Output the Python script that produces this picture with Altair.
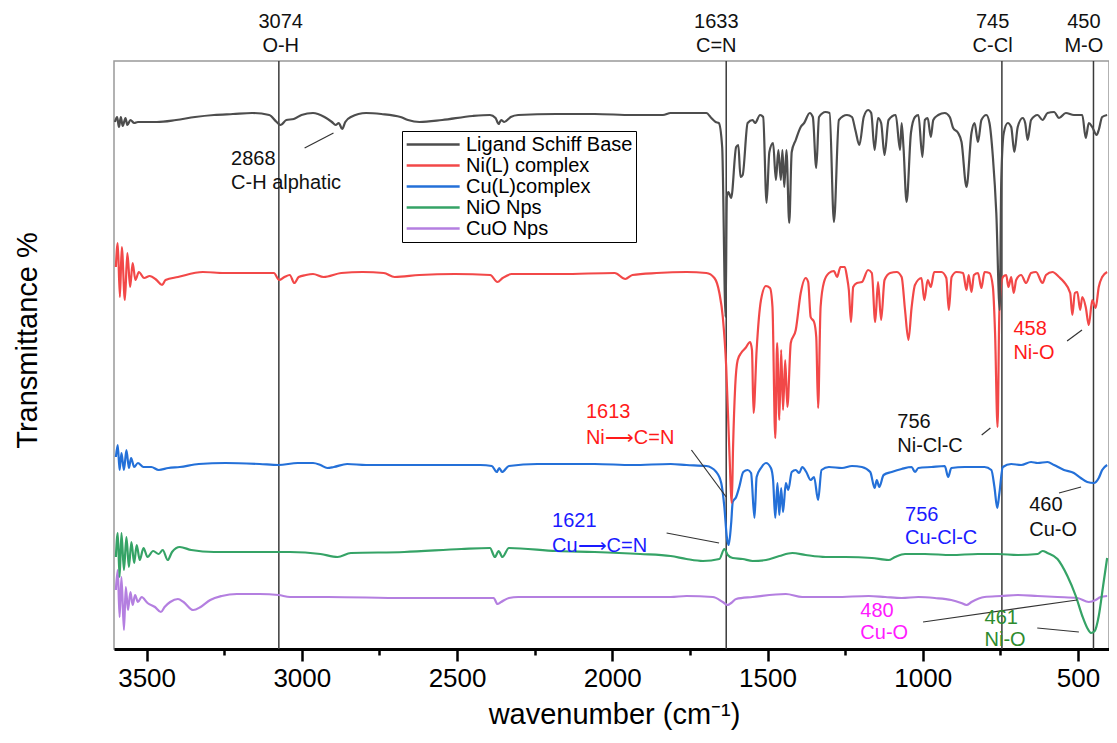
import altair as alt
import pandas as pd

# ---------------- data ----------------
series_names = ["Ligand Schiff Base", "Ni(L) complex", "Cu(L)complex", "NiO Nps", "CuO Nps"]
series_colors = ["#4d4d4d", "#f24848", "#2470d8", "#35a366", "#b47fe0"]

ligand_wn = [3602, 3595, 3589, 3583, 3577, 3568, 3562, 3552, 3540, 3528, 3467, 3405, 3344, 3283, 3222, 3160,
             3105, 3081, 3068, 3050, 3026, 3001, 2964, 2927, 2903, 2891, 2881, 2870, 2860, 2842, 2793, 2744,
             2682, 2658, 2621, 2548, 2450, 2394, 2376, 2366, 2358, 2348, 2327, 2303, 2180, 2057, 1935, 1837,
             1812, 1761, 1697, 1681, 1667, 1657, 1646, 1635, 1631, 1626, 1617, 1601, 1594, 1587, 1580, 1564,
             1548, 1540, 1524, 1514, 1503, 1494, 1482, 1473, 1465, 1457, 1452, 1446, 1439, 1430, 1422, 1409,
             1393, 1382, 1364, 1354, 1343, 1334, 1313, 1300, 1286, 1270, 1244, 1228, 1217, 1204, 1190, 1176,
             1166, 1155, 1144, 1134, 1123, 1110, 1087, 1073, 1068, 1062, 1052, 1038, 1025, 1014, 1001, 993,
             984, 974, 966, 950, 929, 913, 902, 886, 875, 859, 843, 833, 822, 811, 795, 785, 774, 763, 752,
             747, 739, 726, 715, 705, 694, 678, 670, 662, 651, 630, 614, 598, 577, 561, 539, 513, 486, 475,
             465, 454, 440, 433, 422, 406]
ligand_t = [526, 531, 521, 531, 522, 530, 523, 528, 525, 526, 526, 528, 531, 533, 534, 535,
            533, 526, 523, 528, 529, 533, 535, 531, 526, 523, 525, 519, 526, 531, 535, 534,
            531, 528, 526, 528, 532, 533, 530, 524, 528, 526, 531, 533, 534, 534, 533, 533,
            535, 535, 535, 530, 526, 525, 501, 331, 451, 456, 450, 501, 503, 471, 473, 525,
            528, 525, 533, 531, 445, 496, 505, 468, 498, 468, 498, 461, 498, 425, 496, 508,
            521, 525, 535, 531, 480, 531, 536, 535, 426, 528, 533, 531, 518, 503, 531, 538,
            535, 498, 530, 525, 493, 528, 533, 498, 525, 501, 446, 515, 531, 533, 491, 528,
            530, 511, 528, 533, 535, 531, 520, 515, 506, 461, 515, 525, 506, 528, 533, 525, 491, 435, 338,
            468, 515, 525, 521, 496, 521, 530, 525, 508, 528, 533, 528, 535, 536, 530, 535, 533, 533, 510,
            525, 521, 513, 518, 531, 533]

ni_wn = [3599, 3593, 3586, 3580, 3570, 3562, 3553, 3545, 3536, 3525, 3508, 3490, 3468, 3450, 3439, 3399,
         3319, 3250, 3170, 3090, 3073, 3056, 3039, 3024, 3010, 2987, 2964, 2930, 2873, 2804, 2736, 2701,
         2621, 2507, 2393, 2370, 2353, 2324, 2164, 1992, 1958, 1935, 1857, 1761, 1697, 1671, 1655, 1644,
         1633, 1623, 1615, 1611, 1604, 1596, 1585, 1571, 1556, 1550, 1545, 1535, 1521, 1505, 1492, 1484,
         1475, 1469, 1462, 1456, 1450, 1443, 1436, 1425, 1409, 1393, 1377, 1369, 1361, 1350, 1343, 1337,
         1329, 1318, 1302, 1286, 1276, 1265, 1251, 1244, 1238, 1231, 1224, 1212, 1196, 1176, 1164, 1153,
         1144, 1134, 1123, 1105, 1084, 1068, 1057, 1046, 1036, 1025, 1004, 995, 984, 974, 963, 940, 924,
         916, 907, 891, 870, 859, 852, 843, 835, 822, 811, 801, 785, 774, 767, 759, 753, 742, 731, 724,
         715, 707, 699, 683, 667, 651, 635, 614, 603, 582, 561, 545, 525, 518, 510, 502, 493, 486, 475,
         465, 454, 443, 433, 422, 406]
ni_t = [381, 405, 351, 401, 348, 395, 361, 385, 368, 376, 370, 372, 368, 363, 368, 371,
        376, 375, 375, 375, 368, 371, 373, 365, 371, 373, 374, 371, 375, 376, 375, 371,
        373, 374, 373, 366, 370, 374, 374, 375, 369, 373, 375, 376, 375, 370, 355, 331,
        281, 198, 145, 200, 262, 288, 295, 300, 306, 298, 235, 298, 348, 362, 360, 341,
        210, 305, 228, 298, 238, 288, 241, 305, 318, 355, 370, 366, 331, 326, 311, 240,
        341, 366, 375, 377, 371, 381, 381, 371, 358, 326, 361, 365, 366, 378, 375, 326,
        366, 328, 368, 375, 376, 371, 338, 308, 340, 363, 370, 348, 368, 361, 376, 376, 370,
        338, 371, 376, 375, 358, 373, 356, 373, 375, 360, 376, 375, 361, 315, 221, 338, 371, 373, 361,
        371, 355, 368, 373, 365, 375, 376, 365, 373, 376, 371, 366, 355, 333, 355, 356, 338, 351, 341,
        323, 348, 340, 361, 371, 376]

cu_wn = [3599, 3593, 3587, 3581, 3573, 3565, 3557, 3550, 3540, 3528, 3510, 3485, 3461, 3430, 3393, 3332,
         3246, 3136, 3075, 3013, 2964, 2940, 2918, 2897, 2854, 2793, 2670, 2548, 2425, 2388, 2372, 2364,
         2355, 2333, 2241, 2057, 1935, 1812, 1761, 1697, 1665, 1649, 1639, 1631, 1625, 1617, 1612, 1601,
         1591, 1578, 1564, 1553, 1542, 1535, 1521, 1505, 1489, 1482, 1475, 1468, 1462, 1456, 1450, 1441,
         1433, 1422, 1409, 1398, 1388, 1375, 1361, 1350, 1337, 1326, 1302, 1260, 1228, 1196, 1169, 1155,
         1148, 1140, 1126, 1100, 1068, 1036, 1025, 1014, 972, 929, 918, 908, 865, 801, 779, 769, 760, 753,
         742, 715, 683, 651, 630, 598, 577, 545, 513, 491, 470, 449, 433, 422, 406]
cu_t = [191, 203, 178, 195, 178, 198, 180, 190, 181, 185, 181, 181, 178, 180, 181, 184,
        185, 184, 183, 185, 185, 183, 180, 181, 184, 183, 183, 183, 183, 182, 176, 180,
        176, 182, 184, 184, 183, 184, 183, 182, 176, 165, 141, 111, 103, 125, 146, 151,
        161, 176, 178, 175, 130, 171, 180, 185, 180, 168, 130, 165, 133, 160, 136, 165,
        158, 176, 178, 175, 181, 176, 168, 171, 148, 178, 181, 180, 182, 181, 176, 160,
        168, 161, 173, 176, 179, 181, 176, 180, 181, 182, 171, 180, 181, 181, 178, 161, 140, 155,
        181, 184, 183, 186, 185, 186, 183, 178, 175, 170, 166, 165, 170, 178, 183]

nio_wn = [3599, 3593, 3587, 3581, 3573, 3565, 3557, 3549, 3540, 3532, 3522, 3510, 3497, 3479, 3461, 3448,
          3432, 3418, 3393, 3356, 3283, 3160, 3038, 2940, 2885, 2842, 2670, 2486, 2394, 2378, 2366, 2354,
          2333, 2180, 2057, 1910, 1812, 1761, 1708, 1655, 1639, 1628, 1612, 1580, 1548, 1505, 1462, 1420,
          1377, 1313, 1249, 1164, 1110, 1089, 1057, 993, 908, 822, 758, 694, 630, 614, 598, 566, 534, 507,
          486, 470, 458, 446, 433, 419, 406]
nio_t = [91, 115, 71, 115, 78, 111, 81, 106, 85, 103, 88, 100, 91, 97, 94, 98,
         88, 96, 101, 98, 96, 96, 96, 94, 91, 95, 96, 99, 100, 91, 97, 91,
         100, 97, 96, 94, 92, 89, 87, 89, 99, 93, 90, 89, 87, 88, 92, 95,
         93, 91, 91, 90, 88, 91, 94, 94, 93, 94, 94, 93, 94, 97, 95, 89, 72, 52,
         32, 20, 15, 17, 32, 62, 90]

cuo_wn = [3599, 3593, 3587, 3581, 3573, 3567, 3560, 3552, 3545, 3537, 3528, 3516, 3497, 3473, 3454, 3442,
          3424, 3399, 3381, 3350, 3326, 3295, 3258, 3209, 3136, 3075, 3038, 2915, 2670, 2425, 2382, 2370,
          2358, 2333, 2303, 2057, 1812, 1761, 1676, 1644, 1628, 1617, 1601, 1548, 1441, 1388, 1281, 1174,
          1121, 1068, 1014, 961, 908, 876, 859, 843, 801, 747, 694, 630, 566, 502, 465, 443, 427, 406]
cuo_t = [58, 78, 31, 71, 18, 61, 38, 56, 43, 53, 46, 51, 45, 41, 36, 41,
         46, 49, 46, 38, 41, 48, 52, 54, 54, 53, 51, 51, 50, 50, 50, 44,
         46, 50, 51, 51, 51, 52, 51, 46, 43, 45, 49, 51, 54, 51, 51, 52,
         51, 50, 51, 50, 48, 45, 43, 46, 51, 52, 53, 52, 51, 50, 46, 48, 51, 52]

# marker lines and their top labels
marker_wn = [3074, 1633, 745, 450]
top_label_wn = [3068, 1665, 775, 481]
top_numbers = ["3074", "1633", "745", "450"]
top_names = ["O-H", "C=N", "C-Cl", "M-O"]
top_number_t = [626, 626, 626, 626]
top_name_t = [602, 602, 602, 602]

# peak annotations inside the plot
ann_text = ["2868", "C-H alphatic", "1613", "Ni\u27f6C=N", "1621", "Cu\u27f6C=N", "756", "Ni-Cl-C",
            "458", "Ni-O", "756", "Cu-Cl-C", "460", "Cu-O", "480", "Cu-O", "461", "Ni-O"]
ann_wn = [3228, 3228, 2085, 2085, 2194, 2194, 1082, 1082, 708, 708, 1057, 1057, 657, 657, 1201, 1201, 801, 801]
ann_t = [489, 465, 236, 210, 127, 102, 226, 202, 319, 295, 133, 110, 143, 118, 37, 15, 30, 8]
ann_color = ["#111111", "#111111", "#ff1a1a", "#ff1a1a", "#1a1aff", "#1a1aff", "#111111", "#111111",
             "#ff1a1a", "#ff1a1a", "#1a1aff", "#1a1aff", "#111111", "#111111", "#ff1aff", "#ff1aff",
             "#2e8b2e", "#2e8b2e"]

# leader lines from labels to peaks
lead_wn1 = [2991, 1745, 1825, 810, 535, 561, 999, 631]
lead_wn2 = [2898, 1633, 1656, 782, 487, 490, 503, 497]
lead_t1 = [500, 198, 115, 213, 307, 155, 26, 20]
lead_t2 = [515, 151, 105, 220, 318, 161, 48, 16]

x_ticks = [3500, 3250, 3000, 2750, 2500, 2250, 2000, 1750, 1500, 1250, 1000, 750, 500]

# ---------------- tables ----------------
draw_order = [4, 3, 2, 1, 0]  # ligand drawn last (on top)
wns = [ligand_wn, ni_wn, cu_wn, nio_wn, cuo_wn]
ts = [ligand_t, ni_t, cu_t, nio_t, cuo_t]
frames = []
for i in draw_order:
    frames.append(pd.DataFrame({"wn": wns[i], "t": ts[i], "series": series_names[i]}))
spectra = pd.concat(frames, ignore_index=True)

markers = pd.DataFrame({"wn": marker_wn})
tops = pd.DataFrame({
    "wn": top_label_wn + top_label_wn,
    "t": top_number_t + top_name_t,
    "label": top_numbers + top_names,
})
ann = pd.DataFrame({"wn": ann_wn, "t": ann_t, "label": ann_text, "color": ann_color})
leads = pd.DataFrame({"wn": lead_wn1, "wn2": lead_wn2, "t": lead_t1, "t2": lead_t2})

FONT = "Liberation Sans"
xscale = alt.Scale(domain=[400, 3605], reverse=True, nice=False, zero=False)
yscale = alt.Scale(domain=[-1, 587], nice=False, zero=False)

x_axis = alt.Axis(
    values=x_ticks,
    labelExpr="datum.value % 500 === 0 ? datum.value : ''",
    tickSize={"condition": {"test": "datum.value % 500 === 0", "value": 12}, "value": 6},
    tickWidth=2.5, tickColor="black",
    domainColor="black", domainWidth=3,
    labelFont=FONT, labelFontSize=26, labelColor="black", labelPadding=4,
    labelFlush=False, labelOverlap=False,
    grid=False,
    title="wavenumber (cm\u207b\u00b9)",
    titleFont=FONT, titleFontSize=29, titleFontWeight="normal", titleColor="black",
    titleX=500, titleY=74, titleBaseline="alphabetic", titleAlign="center",
)
y_axis = alt.Axis(
    title="Transmittance %", labels=False, ticks=False, domain=False, grid=False,
    titleFont=FONT, titleFontSize=29, titleFontWeight="normal", titleColor="black",
    titleX=-87, titleY=279, titleAngle=270, titleAlign="center", titleBaseline="middle",
)

X = alt.X("wn:Q", scale=xscale, axis=x_axis)
Y = alt.Y("t:Q", scale=yscale, axis=y_axis)

rules = alt.Chart(markers).mark_rule(color="#3a3a3a", strokeWidth=1.5).encode(x=X)

lines = alt.Chart(spectra).mark_line(strokeWidth=2.2, clip=True, interpolate="monotone").encode(
    x=X,
    y=Y,
    color=alt.Color(
        "series:N",
        scale=alt.Scale(domain=series_names, range=series_colors),
        legend=alt.Legend(
            title=None, orient="none", legendX=288, legendY=70,
            symbolType="M-1,0H5", symbolSize=312, symbolStrokeWidth=2.5,
            labelFont=FONT, labelFontSize=20, labelColor="black", labelOffset=40,
            labelLimit=400,
            padding=3, rowPadding=0, strokeColor="black", fillColor="white",
            cornerRadius=0,
        ),
    ),
)

leaders = alt.Chart(leads).mark_rule(color="#333333", strokeWidth=1.2).encode(
    x=X, x2="wn2:Q", y=Y, y2="t2:Q",
)

ann_text_layer = alt.Chart(ann).mark_text(align="left", baseline="middle", font=FONT, fontSize=20).encode(
    x=X, y=Y,
    text="label:N",
    color=alt.Color("color:N", scale=None),
)

top_layer = alt.Chart(tops).mark_text(align="center", baseline="middle", font=FONT, fontSize=20,
                                      color="#111111").encode(
    x=X, y=Y, text="label:N",
)

chart = alt.layer(rules, lines, leaders, ann_text_layer, top_layer).properties(
    width=995, height=588,
    padding={"left": 106, "top": 53, "right": 0, "bottom": 83},
    autosize=alt.AutoSizeParams(type="none"),
    background="white",
).configure_view(stroke="#999999", strokeWidth=1.5)

chart.save("out.html", embed_options={"renderer": "svg", "actions": False})
